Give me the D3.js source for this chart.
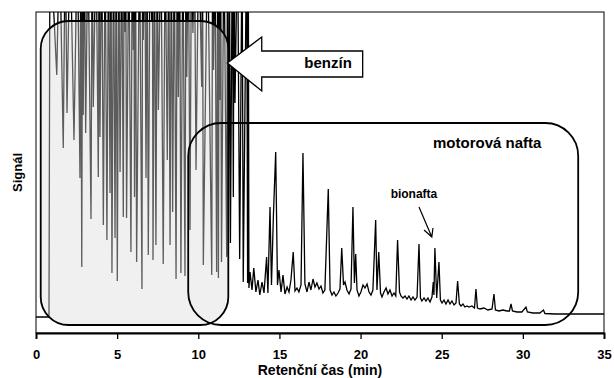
<!DOCTYPE html>
<html>
<head>
<meta charset="utf-8">
<script src="https://cdn.jsdelivr.net/npm/d3@7"></script>
<style>
  body { margin: 0; background: #fff; }
  svg { display: block; font-family: "Liberation Sans", Arial, sans-serif; }
</style>
</head>
<body>
<div id="chart"></div>
<script>
// retention time ticks (min)
const xTicks = [0, 5, 10, 15, 20, 25, 30, 35];

// benzín part: [time (min), signal] alternating peak / valley, peaks run off the top
const gasolineTrace = [
  [0, 16], [0.8, 16], [0.86, 400], [1.28, 258], [1.45, 400], [1.68, 185], [1.8, 400], [1.91, 220],
  [2.1, 400], [2.34, 193], [2.55, 400], [2.71, 155], [2.76, 400], [2.82, 66], [2.87, 400], [2.91, 218],
  [2.98, 400], [3.06, 200], [3.2, 400], [3.39, 114], [3.46, 400], [3.53, 226], [3.7, 400], [3.84, 156],
  [3.89, 400], [3.94, 196], [4.05, 400], [4.15, 108], [4.26, 400], [4.37, 93], [4.47, 400], [4.56, 140],
  [4.62, 400], [4.68, 60], [4.78, 400], [4.87, 95], [4.94, 400], [5.01, 52], [5.1, 400], [5.18, 161],
  [5.28, 400], [5.38, 116], [5.43, 400], [5.48, 301], [5.53, 400], [5.58, 115], [5.72, 400], [5.85, 81],
  [5.93, 400], [6.0, 283], [6.03, 400], [6.07, 136], [6.13, 400], [6.2, 71], [6.38, 400], [6.53, 44],
  [6.57, 400], [6.61, 293], [6.7, 400], [6.78, 155], [6.85, 400], [6.92, 78], [7.03, 400], [7.13, 313],
  [7.17, 400], [7.21, 73], [7.3, 400], [7.39, 88], [7.47, 400], [7.54, 223], [7.7, 400], [7.84, 69],
  [7.96, 400], [8.09, 173], [8.18, 400], [8.26, 88], [8.34, 400], [8.42, 121], [8.52, 400], [8.63, 54],
  [8.7, 400], [8.77, 236], [8.85, 400], [8.93, 60], [9.05, 400], [9.18, 57], [9.24, 400], [9.29, 256],
  [9.39, 400], [9.49, 103], [9.58, 400], [9.67, 300], [9.76, 400], [9.86, 163], [10.03, 400], [10.21, 246],
  [10.26, 400], [10.31, 68], [10.57, 400], [10.83, 58], [10.88, 400], [10.94, 263], [11.03, 400], [11.13, 61],
  [11.2, 400], [11.24, 55], [11.29, 400], [11.34, 233], [11.38, 400], [11.43, 71], [11.58, 400], [11.75, 76],
  [11.8, 400], [11.85, 78], [11.92, 400], [11.98, 90], [12.1, 400], [12.16, 136], [12.2, 400], [12.26, 230],
  [12.42, 400], [12.55, 74], [12.7, 400], [12.77, 51], [12.98, 400], [13.04, 50], [13.08, 400], [13.12, 45]
];

// motorová nafta part: [time (min), signal]
const dieselTrace = [
  [13.19, 61], [13.31, 43], [13.42, 65], [13.55, 41], [13.68, 53], [13.79, 38], [13.93, 51], [14.05, 40],
  [14.21, 76], [14.29, 40], [14.42, 126], [14.51, 48], [14.63, 118], [14.77, 181], [14.88, 48], [14.97, 63],
  [15.1, 41], [15.22, 58], [15.34, 39], [15.47, 46], [15.59, 41], [15.71, 53], [15.85, 81], [15.96, 42],
  [16.08, 45], [16.2, 41], [16.33, 48], [16.45, 180], [16.57, 49], [16.7, 41], [16.82, 51], [16.94, 43],
  [17.07, 54], [17.19, 46], [17.31, 50], [17.44, 44], [17.56, 47], [17.68, 40], [17.8, 43], [18.01, 144],
  [18.12, 43], [18.24, 38], [18.36, 41], [18.48, 37], [18.61, 40], [18.73, 44], [18.84, 85], [18.95, 48],
  [19.04, 51], [19.16, 43], [19.29, 39], [19.41, 44], [19.53, 126], [19.62, 50], [19.7, 79], [19.78, 43],
  [19.9, 37], [20.02, 41], [20.15, 48], [20.27, 45], [20.4, 49], [20.52, 41], [20.64, 38], [20.76, 43],
  [20.93, 113], [21.01, 43], [21.12, 81], [21.23, 40], [21.32, 36], [21.44, 41], [21.57, 45], [21.69, 39],
  [21.81, 43], [21.94, 37], [22.06, 40], [22.17, 37], [22.28, 93], [22.4, 41], [22.49, 37], [22.61, 35],
  [22.74, 37], [22.86, 34], [22.98, 37], [23.11, 33], [23.23, 36], [23.35, 33], [23.48, 36], [23.6, 89],
  [23.69, 35], [23.78, 32], [23.91, 35], [24.03, 32], [24.15, 35], [24.28, 31], [24.4, 36], [24.48, 51],
  [24.52, 38], [24.58, 85], [24.69, 35], [24.83, 71], [24.92, 33], [25.02, 30], [25.14, 33], [25.26, 29],
  [25.39, 33], [25.51, 29], [25.63, 32], [25.76, 28], [25.88, 30], [25.98, 52], [26.09, 29], [26.19, 27],
  [26.31, 29], [26.43, 26], [26.56, 27], [26.68, 26], [26.86, 27], [27.02, 25], [27.11, 44], [27.2, 25],
  [27.36, 24], [27.6, 25], [27.85, 23], [28.1, 24], [28.22, 39], [28.31, 23], [28.53, 22], [28.77, 23],
  [29.02, 22], [29.17, 22], [29.27, 29], [29.36, 22], [29.64, 21], [29.94, 21], [30.19, 26], [30.28, 21],
  [30.62, 20], [31.05, 20], [31.27, 23], [31.36, 19.5], [31.98, 19], [32.9, 19], [33.83, 19], [35, 19]
];

const width = 614, height = 378;
const margin = {top: 12, right: 10, bottom: 45, left: 36};

const svg = d3.select("#chart").append("svg")
    .attr("width", width)
    .attr("height", height);

const x = d3.scaleLinear().domain([0, 35]).range([margin.left, width - margin.right]);
const y = d3.scaleLinear().domain([0, 321]).range([height - margin.bottom, margin.top]);

svg.append("clipPath").attr("id", "plot-clip")
  .append("rect")
    .attr("x", x(0)).attr("y", y(321))
    .attr("width", x(35) - x(0)).attr("height", y(0) - y(321));

// chromatogram
const line = d3.line().x(d => x(d[0])).y(d => y(d[1]));
svg.append("path")
    .datum(gasolineTrace.concat(dieselTrace))
    .attr("clip-path", "url(#plot-clip)")
    .attr("fill", "none")
    .attr("stroke", "#000")
    .attr("stroke-width", 1.3)
    .attr("d", line);

// benzín box, translucent so the trace shows through in grey
svg.append("rect")
    .attr("x", x(0.29)).attr("y", y(312))
    .attr("width", x(11.85) - x(0.29)).attr("height", y(8) - y(312))
    .attr("rx", 28)
    .attr("fill", "#dcdcdc").attr("fill-opacity", 0.42)
    .attr("stroke", "#000").attr("stroke-width", 1.8);

// motorová nafta box
svg.append("rect")
    .attr("x", x(9.38)).attr("y", y(210))
    .attr("width", x(33.41) - x(9.38)).attr("height", y(8) - y(210))
    .attr("rx", 33)
    .attr("fill", "none")
    .attr("stroke", "#000").attr("stroke-width", 1.8);

// big arrow pointing at the benzín box
const arrowPts = [[11.79, 270], [13.91, 296], [13.91, 282], [20.13, 282], [20.13, 256], [13.91, 256], [13.91, 242]];
svg.append("polygon")
    .attr("points", arrowPts.map(p => [x(p[0]), y(p[1])].join(",")).join(" "))
    .attr("fill", "#fff")
    .attr("stroke", "#000")
    .attr("stroke-width", 1.3);

svg.append("text")
    .attr("x", x(18.0)).attr("y", y(265))
    .attr("text-anchor", "middle")
    .style("font-size", "15px").style("font-weight", "bold")
    .text("benzín");

svg.append("text")
    .attr("x", x(27.8)).attr("y", y(185))
    .attr("text-anchor", "middle")
    .style("font-size", "15px").style("font-weight", "bold")
    .text("motorová nafta");

svg.append("text")
    .attr("x", x(23.29)).attr("y", y(135))
    .attr("text-anchor", "middle")
    .style("font-size", "12px").style("font-weight", "bold")
    .text("bionafta");

// small arrow to the biodiesel peak
const tipX = x(24.39), tipY = y(96);
svg.append("path")
    .attr("d", `M${x(23.6)},${y(126)}L${tipX},${tipY}`
      + `M${x(23.91)},${y(103)}L${tipX},${tipY}L${x(24.46)},${y(105)}`)
    .attr("fill", "none")
    .attr("stroke", "#000")
    .attr("stroke-width", 1.2);

// frame
svg.append("rect")
    .attr("x", x(0)).attr("y", y(321))
    .attr("width", x(35) - x(0)).attr("height", y(0) - y(321))
    .attr("fill", "none")
    .attr("stroke", "#000")
    .attr("stroke-width", 1);

// x axis
const xAxis = svg.append("g")
    .attr("transform", `translate(0,${y(0)})`)
    .call(d3.axisBottom(x).tickValues(xTicks).tickSize(6).tickPadding(11));
xAxis.select(".domain").attr("stroke-width", 1.8);
xAxis.selectAll(".tick line").attr("stroke-width", 1.3);
xAxis.selectAll(".tick text")
    .style("font-family", "'Liberation Sans', Arial, sans-serif")
    .style("font-size", "13px").style("font-weight", "bold").attr("fill", "#000");

svg.append("text")
    .attr("x", (x(0) + x(35)) / 2).attr("y", 375)
    .attr("text-anchor", "middle")
    .style("font-size", "14px").style("font-weight", "bold")
    .text("Retenční čas (min)");

svg.append("text")
    .attr("transform", `translate(22,${(y(0) + y(321)) / 2}) rotate(-90)`)
    .attr("text-anchor", "middle")
    .style("font-size", "13px").style("font-weight", "bold")
    .text("Signál");
</script>
</body>
</html>
